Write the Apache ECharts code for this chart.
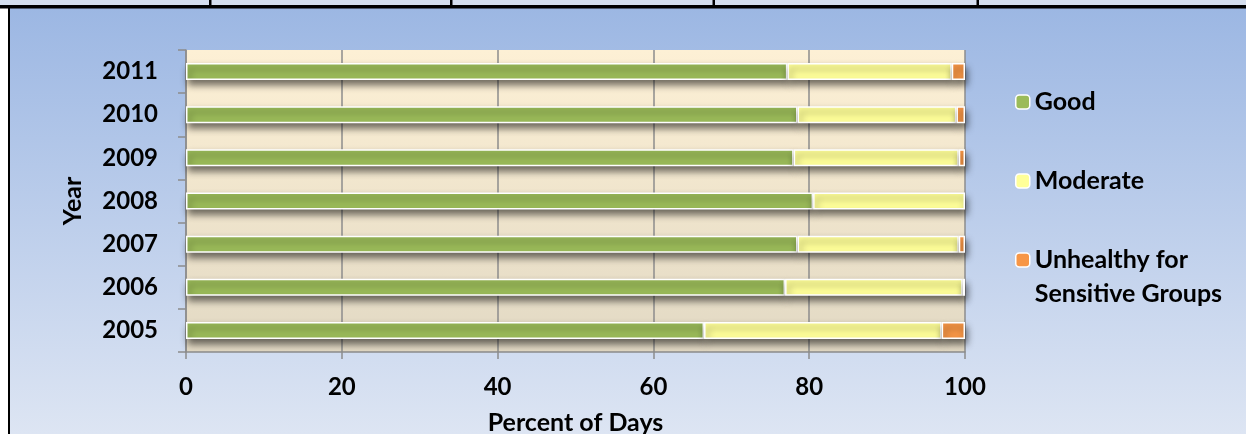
<!DOCTYPE html>
<html>
<head>
<meta charset="utf-8">
<script src="https://cdn.jsdelivr.net/npm/echarts@6/dist/echarts.min.js"></script>
<style>
html, body { margin: 0; padding: 0; background: #fff; }
#main { width: 1246px; height: 434px; }
</style>
</head>
<body>
<div id="main"></div>
<script>
var years = ['2005', '2006', '2007', '2008', '2009', '2010', '2011'];
var good = [66.5, 76.9, 78.5, 80.5, 78.0, 78.5, 77.2];
var moderate = [30.5, 22.8, 20.7, 19.5, 21.2, 20.4, 21.1];
var unhealthy = [3.0, 0.3, 0.8, null, 0.8, 1.1, 1.7];
var xTicks = [0, 20, 40, 60, 80, 100];

var names = ['Good', 'Moderate', 'Unhealthy for Sensitive Groups'];
var colors = ['#9bbb59', '#ffff99', '#f79646'];
var font = 'Lato';
var fs = 25;

var myChart = echarts.init(document.getElementById('main'));

function barSeries(name, values, color) {
    return {
        name: name,
        type: 'bar',
        stack: 'days',
        barWidth: 17,
        data: values,
        itemStyle: {
            color: color,
            borderColor: '#fff',
            borderWidth: 1.5,
            shadowColor: 'rgba(0,0,0,0.55)',
            shadowBlur: 7,
            shadowOffsetX: 2,
            shadowOffsetY: 5
        }
    };
}

function legendAt(name, top, twoLines) {
    var lg = {
        data: [name],
        orient: 'vertical',
        left: 1010,
        top: top,
        itemWidth: 14,
        itemHeight: 14,
        selectedMode: false,
        itemStyle: { borderColor: '#fff', borderWidth: 1.5, shadowBlur: 0, shadowOffsetX: 0, shadowOffsetY: 0 },
        textStyle: { fontFamily: font, fontWeight: 'bold', fontSize: fs, color: '#000', lineHeight: 34 }
    };
    if (twoLines) {
        // blank first line keeps the icon level with "Unhealthy for"
        lg.formatter = function () { return ' \nUnhealthy for\nSensitive Groups'; };
    }
    return lg;
}

var option = {
    animation: false,
    graphic: [
        // frame around the chart (part of the source table)
        { type: 'rect', z: -10, shape: { x: 10, y: 8, width: 1236, height: 426 },
          style: { fill: new echarts.graphic.LinearGradient(0, 0, 0, 1, [
              { offset: 0, color: '#9cb7e3' }, { offset: 1, color: '#dde5f3' }]) } },
        { type: 'rect', z: -10, shape: { x: 0, y: 0, width: 1246, height: 5 }, style: { fill: '#d5dfef' } },
        { type: 'rect', z: -9, shape: { x: 0, y: 5, width: 1246, height: 3.5 }, style: { fill: '#000' } },
        { type: 'rect', z: -9, shape: { x: 8, y: 8, width: 2, height: 426 }, style: { fill: '#000' } },
        { type: 'rect', z: -9, shape: { x: 209, y: 0, width: 2.5, height: 6 }, style: { fill: '#000' } },
        { type: 'rect', z: -9, shape: { x: 450, y: 0, width: 2.5, height: 6 }, style: { fill: '#000' } },
        { type: 'rect', z: -9, shape: { x: 712.5, y: 0, width: 2.5, height: 6 }, style: { fill: '#000' } },
        { type: 'rect', z: -9, shape: { x: 976.5, y: 0, width: 2.5, height: 6 }, style: { fill: '#000' } }
    ],
    legend: [
        legendAt(names[0], 80),
        legendAt(names[1], 159),
        legendAt(names[2], 204, true)
    ],
    grid: {
        left: 186,
        right: 281,
        top: 50,
        bottom: 82,
        containLabel: false,
        outerBoundsMode: 'none',
        show: true,
        borderWidth: 0,
        backgroundColor: new echarts.graphic.LinearGradient(0, 0, 0, 1, [
            { offset: 0, color: '#fdf0d5' }, { offset: 1, color: '#e2d9c4' }])
    },
    xAxis: {
        type: 'value',
        min: 0,
        max: 100,
        interval: 20,
        name: 'Percent of Days',
        nameLocation: 'middle',
        nameGap: 58,
        nameTextStyle: { fontFamily: font, fontWeight: 'bold', fontSize: fs, color: '#000' },
        axisLine: { show: true, lineStyle: { color: '#8c8c8c', width: 1.5 } },
        axisTick: { show: true, length: 7, lineStyle: { color: '#8c8c8c', width: 1.5 } },
        axisLabel: {
            margin: 23,
            fontFamily: font, fontWeight: 'bold', fontSize: 24, color: '#000',
            formatter: function (v) { return xTicks.indexOf(v) >= 0 ? String(v) : ''; }
        },
        splitLine: { show: true, lineStyle: { color: '#8c8c8c', width: 1.5 } }
    },
    yAxis: {
        type: 'category',
        data: years,
        name: 'Year',
        nameLocation: 'middle',
        nameRotate: 90,
        nameGap: 101,
        nameTextStyle: { fontFamily: font, fontWeight: 'bold', fontSize: fs, color: '#000' },
        axisLine: { show: true, lineStyle: { color: '#8c8c8c', width: 1.5 } },
        axisTick: { show: true, length: 8, lineStyle: { color: '#8c8c8c', width: 1.5 } },
        axisLabel: { margin: 28, fontFamily: font, fontWeight: 'bold', fontSize: 24, color: '#000' },
        splitLine: { show: false }
    },
    series: [
        barSeries(names[0], good, colors[0]),
        barSeries(names[1], moderate, colors[1]),
        barSeries(names[2], unhealthy, colors[2])
    ]
};
myChart.setOption(option);
</script>
</body>
</html>
